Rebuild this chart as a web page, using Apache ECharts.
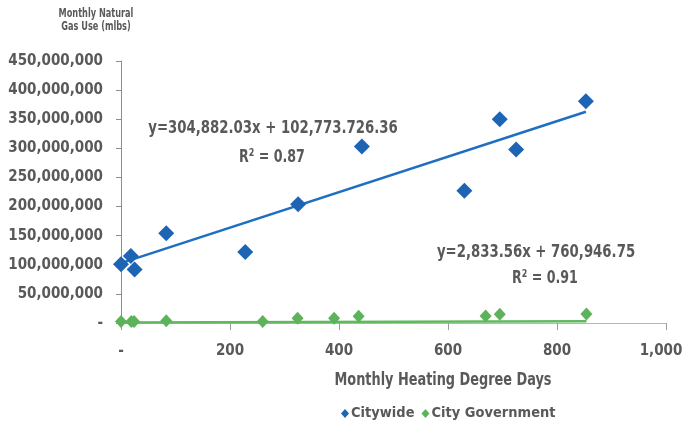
<!DOCTYPE html>
<html>
<head>
<meta charset="utf-8">
<script src="https://cdn.jsdelivr.net/npm/echarts@6/dist/echarts.min.js"></script>
<style>
  html, body { margin: 0; padding: 0; background: #fff; }
  #chart { width: 683px; height: 421px; }
</style>
</head>
<body>
<div id="chart"></div>
<script>
// Monthly heating degree days vs. natural gas use (mlbs)
const hddCitywide = [0, 18, 25, 83, 228, 325, 442, 630, 695, 725, 853];
const gasCitywide = [101e6, 115e6, 92e6, 154e6, 122e6, 204e6, 303e6, 227e6, 350e6, 298e6, 381e6];

const hddCityGov = [0, 19, 24, 83, 260, 324, 391, 436, 669, 695, 854];
const gasCityGov = [2.6e6, 2.6e6, 2.6e6, 4.0e6, 2.5e6, 8.0e6, 8.0e6, 11.5e6, 12.0e6, 15.0e6, 15.5e6];

// Linear trend coefficients (slope, intercept) and fit quality
const trendCitywide = { slope: 304882.03, intercept: 102773726.36, r2: '0.87',
  label: 'y=304,882.03x + 102,773.726.36' };
const trendCityGov = { slope: 2833.56, intercept: 760946.75, r2: '0.91',
  label: 'y=2,833.56x + 760,946.75' };

const xTicks = { min: 0, max: 1000, step: 200 };
const yTicks = { min: 0, max: 450000000, step: 50000000 };

const FONT = '"DejaVu Sans Condensed", "Liberation Sans Narrow", sans-serif';
const TEXT = '#595959';
const BLUE = '#1d64b5';
const BLUE_LINE = '#1f6fc1';
const GREEN = '#5cb35a';
const GREEN_LINE = '#62b85e';

function pairs(xs, ys) { return xs.map((x, i) => [x, ys[i]]); }
function trendPoints(xs, t) {
  const lo = Math.min(...xs), hi = Math.max(...xs);
  return [[lo, t.slope * lo + t.intercept], [hi, t.slope * hi + t.intercept]];
}
function fmt(v) { return v === 0 ? '-' : v.toLocaleString('en-US'); }
// last x label is nudged left so it stays on the canvas
function fmtX(v) { return v === xTicks.max ? '{edge|' + fmt(v) + '}' : fmt(v); }

// narrow bold caption, squeezed horizontally around its anchor
function caption(text, x, y, size, squeeze, align) {
  return {
    type: 'text', x: x, y: y, scaleX: squeeze, scaleY: 1,
    style: { text: text, textAlign: align || 'center', textVerticalAlign: 'middle',
      fontFamily: FONT, fontWeight: 'bold', fontSize: size, lineHeight: size, fill: TEXT }
  };
}

const chart = echarts.init(document.getElementById('chart'));
chart.setOption({
  animation: false,
  backgroundColor: '#fff',
  textStyle: { fontFamily: FONT },
  grid: { left: 121, right: 17, top: 61, bottom: 98, containLabel: false, outerBoundsMode: 'none' },
  xAxis: {
    type: 'value', min: xTicks.min, max: xTicks.max, interval: xTicks.step,
    axisLine: { show: true, lineStyle: { color: '#b7b7b7', width: 1 } },
    axisTick: { show: true, length: 7, lineStyle: { color: '#9a9a9a' } },
    splitLine: { show: false },
    axisLabel: {
      formatter: fmtX, margin: 21, color: TEXT, fontFamily: FONT, fontWeight: 'bold', fontSize: 15,
      rich: { edge: { fontFamily: FONT, fontWeight: 'bold', fontSize: 15, color: TEXT, padding: [0, 10, 0, 0] } }
    }
  },
  yAxis: {
    type: 'value', min: yTicks.min, max: yTicks.max, interval: yTicks.step,
    axisLine: { show: true, lineStyle: { color: '#8c8c8c', width: 1 } },
    axisTick: { show: true, length: 5, lineStyle: { color: '#8c8c8c' } },
    splitLine: { show: false },
    axisLabel: { formatter: fmt, margin: 18, color: TEXT, fontFamily: FONT, fontWeight: 'bold', fontSize: 15 }
  },
  legend: {
    left: 336, top: 401,
    itemWidth: 8, itemHeight: 9, itemGap: 7,
    icon: 'diamond',
    data: ['Citywide', 'City Government'],
    textStyle: { fontFamily: FONT, fontWeight: 'bold', fontSize: 14.5, color: TEXT, padding: [0, 0, 0, -3] }
  },
  graphic: [
    caption('Monthly Natural\nGas Use (mlbs)', 96, 20, 13, 0.7),
    caption('Monthly Heating Degree Days', 443, 380, 18, 0.795),
    caption(trendCitywide.label, 273, 128, 18, 0.82),
    caption('R² = ' + trendCitywide.r2, 272, 157, 18, 0.78),
    caption(trendCityGov.label, 536, 252, 18, 0.82),
    caption('R² = ' + trendCityGov.r2, 545, 278, 18, 0.78)
  ],
  series: [
    { name: 'Citywide trend', type: 'line', data: trendPoints(hddCitywide, trendCitywide),
      symbol: 'none', z: 2, lineStyle: { color: BLUE_LINE, width: 2.5 }, silent: true },
    { name: 'City Government trend', type: 'line', data: trendPoints(hddCityGov, trendCityGov),
      symbol: 'none', z: 2, lineStyle: { color: GREEN_LINE, width: 2.5 }, silent: true },
    { name: 'Citywide', type: 'scatter', data: pairs(hddCitywide, gasCitywide),
      symbol: 'diamond', symbolSize: [16, 16], z: 3, itemStyle: { color: BLUE, opacity: 1 } },
    { name: 'City Government', type: 'scatter', data: pairs(hddCityGov, gasCityGov),
      symbol: 'diamond', symbolSize: [12, 13], z: 3, itemStyle: { color: GREEN, opacity: 1 } }
  ]
});
</script>
</body>
</html>
